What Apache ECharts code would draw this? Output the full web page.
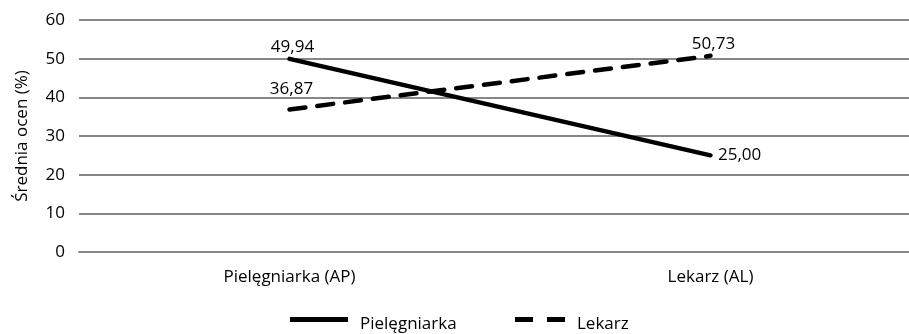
<!DOCTYPE html>
<html>
<head>
<meta charset="utf-8">
<script src="https://cdn.jsdelivr.net/npm/echarts@6/dist/echarts.min.js"></script>
<style>
  html, body { margin: 0; padding: 0; background: #fff; }
  #chart { width: 909px; height: 334px; }
</style>
</head>
<body>
<div id="chart"></div>
<script>
  // dane
  const categories = ['Pielęgniarka (AP)', 'Lekarz (AL)'];
  const nurseValues = [49.94, 25.00];
  const doctorValues = [36.87, 50.73];
  const seriesNames = ['Pielęgniarka', 'Lekarz'];

  const chart = echarts.init(document.getElementById('chart'));
  const font = 'Open Sans, Liberation Sans, sans-serif';
  const fmt = p => p.value.toFixed(2).replace('.', ',');
  const labelStyle = { show: true, formatter: fmt, fontSize: 17, color: '#000' };
  const legendText = {
    fontSize: 17, color: '#000', fontFamily: font,
    rich: { t: { fontSize: 17, color: '#000', fontFamily: font, padding: [10, 0, 0, 7] } }
  };

  chart.setOption({
    animation: false,
    textStyle: { fontFamily: font },
    grid: { left: 79, right: -12, top: 20, bottom: 82, outerBoundsMode: 'none' },
    legend: [
      {
        left: 285, top: 311,
        itemWidth: 58, itemHeight: 5,
        formatter: '{t|{name}}',
        textStyle: legendText,
        data: [{ name: seriesNames[0], icon: 'path://M0,0H58V5H0Z' }]
      },
      {
        left: 510, top: 311,
        itemWidth: 50, itemHeight: 5,
        formatter: '{t|{name}}',
        textStyle: legendText,
        data: [{ name: seriesNames[1], icon: 'path://M0,0H18V5H0Z M32,0H50V5H32Z' }]
      }
    ],
    xAxis: {
      type: 'category',
      data: categories,
      boundaryGap: true,
      axisTick: { show: false },
      axisLine: { lineStyle: { color: '#868686', width: 2 } },
      axisLabel: { color: '#000', fontSize: 17, margin: 17 }
    },
    yAxis: {
      type: 'value',
      min: 0,
      max: 60,
      interval: 10,
      name: 'Średnia ocen (%)',
      nameLocation: 'middle',
      nameGap: 48,
      nameTextStyle: { color: '#000', fontSize: 17 },
      axisLine: { show: false },
      axisTick: { show: false },
      axisLabel: { color: '#000', fontSize: 17, margin: 14 },
      splitLine: { lineStyle: { color: '#868686', width: 2 } }
    },
    series: [
      {
        name: seriesNames[0],
        type: 'line',
        symbol: 'circle',
        symbolSize: 1,
        lineStyle: { color: '#000', width: 4.5, cap: 'round' },
        itemStyle: { color: '#000' },
        label: labelStyle,
        data: [
          { value: nurseValues[0], label: { position: 'top', offset: [3, 2] } },
          { value: nurseValues[1], label: { position: 'right', offset: [2, 0] } }
        ]
      },
      {
        name: seriesNames[1],
        type: 'line',
        symbol: 'circle',
        symbolSize: 1,
        lineStyle: { color: '#000', width: 4.5, type: [16, 12], cap: 'round' },
        itemStyle: { color: '#000' },
        label: labelStyle,
        data: [
          { value: doctorValues[0], label: { position: 'top', offset: [2, -6] } },
          { value: doctorValues[1], label: { position: 'top', offset: [3, 2] } }
        ]
      }
    ]
  });
</script>
</body>
</html>
